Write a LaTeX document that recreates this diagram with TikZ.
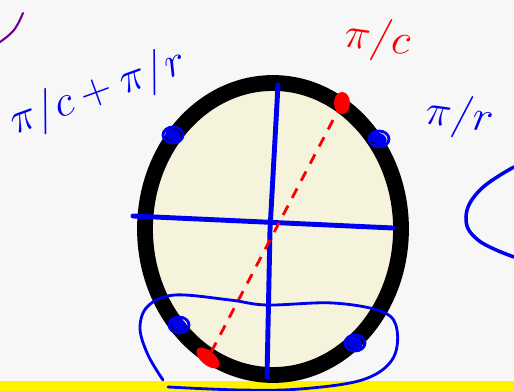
\documentclass[tikz,border=0pt]{standalone}
\usepackage{tikz}
\usetikzlibrary{calc}

\definecolor{paper}{RGB}{247,247,247}
\definecolor{cream}{RGB}{246,243,220}
\definecolor{penblue}{RGB}{0,0,240}
\definecolor{penred}{RGB}{250,0,0}
\definecolor{penpurple}{RGB}{110,0,150}

\tikzset{
	pen/.style={line width=2.8pt,penblue,line cap=round,line join=round},
	thinpen/.style={line width=1.6pt,penblue,line cap=round,line join=round},
	scrawl/.style={font=\fontsize{30}{32}\selectfont,inner sep=0pt}
}

\begin{document}
\begin{tikzpicture}[x=0.02cm,y=-0.02cm]
		\fill[paper] (0,0) rectangle (514,391);
		\useasboundingbox (0,0) rectangle (514,391);
		
		% yellow strip at the bottom
		\fill[yellow] (0,381) rectangle (514,391);
		
		% the ring
		\draw[line width=9pt,black,fill=cream] (273,229) ellipse [x radius=128, y radius=146];
		
		% cross
		\draw[pen] (278,85) -- (270,230) -- (267,377);
		\draw[pen] (133,216) -- (393,228);
		
		% red pair
		\coordinate (rtop) at (342,103);
		\coordinate (rbot) at (208,358);
		\draw[penred,line width=1.6pt,dash pattern=on 6pt off 5pt] (rtop) -- (rbot);
		\fill[penred] (rtop) ellipse [x radius=8, y radius=11];
		\fill[penred,rotate around={50:(rbot)}] (rbot) ellipse [x radius=7, y radius=14];
		
		% blue dots
		\foreach \x/\y/\n in {173/135/bA,379/139/bB,179/325/bC,355/343/bD}
		{
			\coordinate (\n) at (\x,\y);
			\draw[thinpen] (\n) ellipse [x radius=10, y radius=8];
			\fill[penblue,rotate around={-25:(\n)}] (\n) ellipse [x radius=8, y radius=6];
		}
		
		% loop round the lower part
		\draw[thinpen] plot[smooth, tension=.6] coordinates {(163,380) (148,355) (140,328) (148,306) (175,295) (230,300) (267,305) (333,303) (383,312) (397,330) (392,360) (362,380) (300,389) (240,390) (168,387)};
		
		% right hand curve
		\draw[thinpen,line width=2pt] plot[smooth, tension=.7] coordinates {(514,167) (480,190) (466,217) (478,240) (514,257)};
		
		% purple stroke top left
		\draw[penpurple,line width=1.2pt,line cap=round] plot[smooth, tension=.7] coordinates {(0,42) (14,30) (23,13)};
		
		% labels
		\node[scrawl,penblue,rotate=20] (sum) at (98,93) {$\pi/c+\pi/r$};
		\node[scrawl,penred,rotate=-8] (lc) at (378,40) {$\pi/c$};
		\node[scrawl,penblue,rotate=-8] (lr) at (460,117) {$\pi/r$};
	\end{tikzpicture}
\end{document}
